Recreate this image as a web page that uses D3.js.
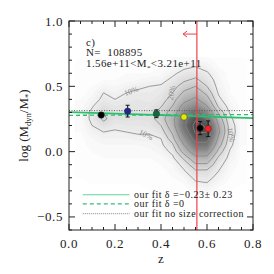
<!DOCTYPE html>
<html>
<head>
<meta charset="utf-8">
<script src="https://cdn.jsdelivr.net/npm/d3@7"></script>
<style>
  body { margin: 0; background: #fff; }
  text { font-family: "Liberation Serif", "DejaVu Serif", serif; fill: #222; }
</style>
</head>
<body>
<script>
// data

// density grid: columns are z, rows are log(Mdyn/M*) from top to bottom
var gridZ = [0.05, 0.10, 0.15, 0.20, 0.25, 0.30, 0.35, 0.40, 0.45, 0.50, 0.55, 0.60, 0.65, 0.70, 0.75];
var gridY = [0.70, 0.65, 0.60, 0.55, 0.50, 0.45, 0.40, 0.35, 0.30, 0.25, 0.20, 0.15, 0.10, 0.05, 0.00, -0.05, -0.10, -0.15, -0.20, -0.25, -0.30];
var density = [
  [1,1,1,1,1,2,2,2,3,4,5,4,2,1,1],
  [1,1,2,2,2,2,2,3,5,8,10,7,3,2,1],
  [1,2,2,2,3,3,3,4,8,13,15,11,5,2,1],
  [2,2,3,3,4,5,6,7,12,18,22,15,6,2,1],
  [2,3,6,5,7,9,10,11,16,25,30,20,7,3,1],
  [2,4,10,7,10,11,11,13,20,32,38,27,9,3,1],
  [3,6,12,10,12,13,12,15,25,40,48,35,12,4,2],
  [3,9,16,13,14,14,14,19,30,50,60,45,18,6,2],
  [4,12,20,15,16,15,16,24,35,60,75,60,28,9,2],
  [4,12,22,15,16,15,16,25,40,70,88,75,38,12,3],
  [3,10,16,12,13,13,14,20,38,72,95,88,45,15,3],
  [3,7,10,9,10,11,11,15,32,65,92,90,48,16,3],
  [2,5,7,7,7,8,8,10,26,55,82,82,42,14,3],
  [2,4,5,5,5,5,6,8,18,45,70,70,35,12,3],
  [2,3,4,4,4,4,4,6,12,35,55,55,26,9,2],
  [1,2,3,3,3,3,3,4,8,22,40,40,18,7,2],
  [1,2,2,2,2,2,2,3,5,13,28,28,13,5,2],
  [1,1,2,2,2,2,2,2,4,9,18,18,10,4,1],
  [1,1,1,1,1,1,2,2,3,5,12,13,7,3,1],
  [0,1,1,1,1,1,1,1,2,3,8,9,4,2,1],
  [0,0,0,0,0,0,1,1,1,2,4,5,2,1,0]
];
var contourLevels = [10, 20, 30, 45, 60, 75, 90];

// contour labels
var labelText = ["10%", "10%", "10%", "20%"];
var labelZ = [0.27, 0.335, 0.705, 0.445];
var labelY = [0.465, 0.13, 0.13, 0.45];
var labelAngle = [-20, 25, 80, -80];

// binned medians
var pointZ = [0.14, 0.255, 0.38, 0.50, 0.57, 0.605];
var pointY = [0.28, 0.31, 0.29, 0.265, 0.18, 0.175];
var pointErr = [0.01, 0.045, 0.03, 0.012, 0.05, 0.06];
var pointColor = ["#000000", "#22229a", "#0d6b3c", "#e6e600", "#000000", "#ff1e1e"];

// fit lines
var fitZ = [0.0, 0.8];
var fitSolid = [0.302, 0.256];
var fitDashed = [0.278, 0.284];
var fitDotted = [0.314, 0.314];

var zCut = 0.556;

var xTicks = [0.0, 0.2, 0.4, 0.6, 0.8];
var xTickLabels = ["0.0", "0.2", "0.4", "0.6", "0.8"];
var yTicks = [-0.5, 0.0, 0.5, 1.0];
var yTickLabels = ["\u22120.5", "0.0", "0.5", "1.0"];

var legendLabels = ["our fit \u03b4 =\u22120.23\u00b1 0.23", "our fit \u03b4 =0", "our fit no size correction"];

var width = 274, height = 274;
var pLeft = 69, pRight = 253, pTop = 21, pBottom = 230;

var x = d3.scaleLinear().domain([0, 0.8]).range([pLeft, pRight]);
var y = d3.scaleLinear().domain([-0.6, 1.0]).range([pBottom, pTop]);

var svg = d3.select("body").append("svg")
    .attr("width", width)
    .attr("height", height);

svg.append("clipPath").attr("id", "plotclip")
  .append("rect")
    .attr("x", pLeft).attr("y", pTop)
    .attr("width", pRight - pLeft).attr("height", pBottom - pTop);

var plot = svg.append("g").attr("clip-path", "url(#plotclip)");

// density image
var nx = gridZ.length, ny = gridY.length;
var values = [];
for (var j = 0; j < ny; j++) {
  for (var i = 0; i < nx; i++) values.push(density[j][i]);
}
var dz = gridZ[1] - gridZ[0], dy = gridY[0] - gridY[1];
var proj = d3.geoTransform({
  point: function(gx, gy) {
    this.stream.point(x(gridZ[0] + (gx - 0.5) * dz), y(gridY[0] - (gy - 0.5) * dy));
  }
});
var path = d3.geoPath(proj);

var grey = d3.scaleLinear().domain([0, 100]).range(["#ffffff", "#3a3a3a"]);

var bands = d3.contours().size([nx, ny]).thresholds(d3.range(1, 100, 2))(values);
plot.append("g").selectAll("path")
  .data(bands)
  .join("path")
    .attr("d", path)
    .attr("fill", function(d) { return grey(d.value); });

var lines = d3.contours().size([nx, ny]).thresholds(contourLevels)(values);
plot.append("g").selectAll("path")
  .data(lines)
  .join("path")
    .attr("d", path)
    .attr("fill", "none")
    .attr("stroke", "#858585")
    .attr("stroke-width", 0.8);

plot.append("g").selectAll("text")
  .data(labelText)
  .join("text")
    .attr("transform", function(d, i) { return "translate(" + x(labelZ[i]) + "," + y(labelY[i]) + ") rotate(" + labelAngle[i] + ")"; })
    .attr("text-anchor", "middle")
    .attr("dy", "0.35em")
    .style("font-size", "8px")
    .style("fill", "#8a8a8a")
    .text(function(d) { return d; });

// fit lines
var fitLine = function(vals) {
  return d3.line().x(function(d, i) { return x(fitZ[i]); }).y(function(d) { return y(d); })(vals);
};
plot.append("path").attr("d", fitLine(fitDotted))
    .attr("fill", "none").attr("stroke", "#555").attr("stroke-width", 0.9).attr("stroke-dasharray", "1,1.5");
plot.append("path").attr("d", fitLine(fitDashed))
    .attr("fill", "none").attr("stroke", "#2ebd6e").attr("stroke-width", 1.3).attr("stroke-dasharray", "4,3");
plot.append("path").attr("d", fitLine(fitSolid))
    .attr("fill", "none").attr("stroke", "#2ebd6e").attr("stroke-width", 1.8);

// red cut
plot.append("line")
    .attr("x1", x(zCut)).attr("x2", x(zCut))
    .attr("y1", pTop).attr("y2", pBottom)
    .attr("stroke", "#f0404a").attr("stroke-width", 1.2);
var ay = y(0.90), ax0 = x(zCut), ax1 = x(0.496);
svg.append("path")
    .attr("d", "M" + ax0 + "," + ay + "L" + ax1 + "," + ay + "M" + (ax1 + 4) + "," + (ay - 3) + "L" + ax1 + "," + ay + "L" + (ax1 + 4) + "," + (ay + 3))
    .attr("fill", "none").attr("stroke", "#f0404a").attr("stroke-width", 1);

// points with error bars
var pts = plot.append("g").selectAll("g")
  .data(pointZ)
  .join("g");
pts.append("line")
    .attr("x1", function(d) { return x(d); }).attr("x2", function(d) { return x(d); })
    .attr("y1", function(d, i) { return y(pointY[i] - pointErr[i]); })
    .attr("y2", function(d, i) { return y(pointY[i] + pointErr[i]); })
    .attr("stroke", "#111").attr("stroke-width", 1);
pts.append("path")
    .attr("d", function(d, i) {
      var cx = x(d), y1 = y(pointY[i] - pointErr[i]), y2 = y(pointY[i] + pointErr[i]);
      return "M" + (cx - 2) + "," + y1 + "H" + (cx + 2) + "M" + (cx - 2) + "," + y2 + "H" + (cx + 2);
    })
    .attr("stroke", "#111").attr("stroke-width", 1);
pts.append("circle")
    .attr("cx", function(d) { return x(d); })
    .attr("cy", function(d, i) { return y(pointY[i]); })
    .attr("r", 3.2)
    .attr("fill", function(d, i) { return pointColor[i]; })
    .attr("stroke", "#333").attr("stroke-width", 0.5);

// frame and ticks
var axes = svg.append("g").attr("stroke", "#222").attr("stroke-width", 1);
axes.append("rect")
    .attr("x", pLeft).attr("y", pTop)
    .attr("width", pRight - pLeft).attr("height", pBottom - pTop)
    .attr("fill", "none");

var xMinor = d3.range(0, 0.8001, 0.05);
var yMinor = d3.range(-0.6, 1.0001, 0.1);
xMinor.forEach(function(v) {
  var major = xTicks.some(function(t) { return Math.abs(t - v) < 1e-6; });
  var len = major ? 6 : 3;
  axes.append("line").attr("x1", x(v)).attr("x2", x(v)).attr("y1", pBottom).attr("y2", pBottom - len);
  axes.append("line").attr("x1", x(v)).attr("x2", x(v)).attr("y1", pTop).attr("y2", pTop + len);
});
yMinor.forEach(function(v) {
  var major = yTicks.some(function(t) { return Math.abs(t - v) < 1e-6; });
  var len = major ? 6 : 3;
  axes.append("line").attr("x1", pLeft).attr("x2", pLeft + len).attr("y1", y(v)).attr("y2", y(v));
  axes.append("line").attr("x1", pRight).attr("x2", pRight - len).attr("y1", y(v)).attr("y2", y(v));
});

svg.append("g").selectAll("text")
  .data(xTickLabels)
  .join("text")
    .attr("x", function(d, i) { return x(xTicks[i]); })
    .attr("y", 248)
    .attr("text-anchor", "middle")
    .style("font-size", "13px")
    .style("letter-spacing", "0.6px")
    .text(function(d) { return d; });

svg.append("g").selectAll("text")
  .data(yTickLabels)
  .join("text")
    .attr("x", 63)
    .attr("y", function(d, i) { return y(yTicks[i]) + 4.5; })
    .attr("text-anchor", "end")
    .style("font-size", "13px")
    .style("letter-spacing", "0.6px")
    .text(function(d) { return d; });

svg.append("text")
    .attr("x", x(0.4)).attr("y", 263)
    .attr("text-anchor", "middle")
    .style("font-size", "13px")
    .text("z");

var ylab = svg.append("text")
    .attr("transform", "translate(28," + ((pTop + pBottom) / 2) + ") rotate(-90)")
    .attr("text-anchor", "middle")
    .style("font-size", "13px");
ylab.append("tspan").text("log (M");
ylab.append("tspan").attr("dy", 3).style("font-size", "8.5px").text("dyn");
ylab.append("tspan").attr("dy", -3).text("/M");
ylab.append("tspan").attr("dy", 3).style("font-size", "8.5px").text("*");
ylab.append("tspan").attr("dy", -3).text(")");

// annotations
var note = svg.append("g").style("font-size", "11px").style("letter-spacing", "0.4px");
note.append("text").attr("x", 86).attr("y", 45.5).text("c)");
note.append("text").attr("x", 86).attr("y", 56).attr("xml:space", "preserve").text("N=  108895");
var mt = note.append("text").attr("x", 86).attr("y", 67);
mt.append("tspan").text("1.56e+11<M");
mt.append("tspan").attr("dy", 2.5).style("font-size", "7px").text("*");
mt.append("tspan").attr("dy", -2.5).text("<3.21e+11");

// legend
var legY = [-0.33, -0.40, -0.475];
var legStyle = [
  {stroke: "#5fd898", dash: null},
  {stroke: "#3cb878", dash: "4,3"},
  {stroke: "#777", dash: "1,1"}
];
var leg = svg.append("g");
legendLabels.forEach(function(lab, i) {
  leg.append("line")
      .attr("x1", x(0.06)).attr("x2", x(0.263))
      .attr("y1", y(legY[i])).attr("y2", y(legY[i]))
      .attr("stroke", legStyle[i].stroke)
      .attr("stroke-width", i === 2 ? 0.9 : 1.2)
      .attr("stroke-dasharray", legStyle[i].dash);
  leg.append("text")
      .attr("x", 134).attr("y", y(legY[i]) + 3.5)
      .style("font-size", "10px")
      .style("letter-spacing", "0.45px")
      .text(lab);
});
</script>
</body>
</html>
